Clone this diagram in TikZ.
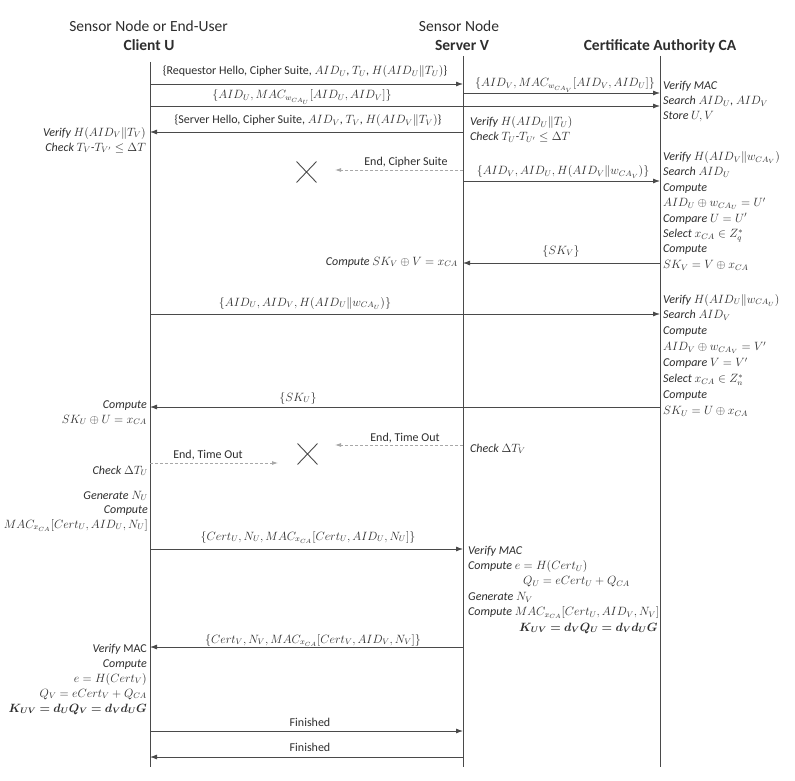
\documentclass[tikz,border=0pt]{standalone}
\usepackage{amsmath,bm}
\usepackage{fontspec}
\setmainfont{Carlito}
\usetikzlibrary{arrows.meta,shapes.misc}
\definecolor{linec}{HTML}{4A4A4A}
\definecolor{txtc}{HTML}{2E2E2E}
\definecolor{dashc}{HTML}{A8A8A8}
\newcommand\lblfont{\fontsize{12}{15}\selectfont}
\newcommand\hdrfont{\fontsize{15.5}{18}\selectfont}
\newcommand\notefontA{\fontsize{12}{15}\selectfont\itshape}
\newcommand\notefontB{\fontsize{12}{15.4}\selectfont\itshape}
\newcommand\notefontC{\fontsize{12}{15.9}\selectfont\itshape}
\newcommand\notefontD{\fontsize{12}{14.5}\selectfont\itshape}
\newcommand\notefontE{\fontsize{12}{14.5}\selectfont\itshape}
\begin{document}
\begin{tikzpicture}[x=1pt,y=-1pt,
  lifeline/.style={draw=linec, line width=0.8pt},
  msg/.style={draw=linec, line width=0.8pt, -{Latex[length=7pt,width=5pt]}},
  dmsg/.style={draw=dashc, line width=0.8pt, dash pattern=on 3pt off 2pt, -{Latex[length=6pt,width=4pt]}},
  lbl/.style={anchor=base, inner sep=0pt, font=\lblfont, text=txtc},
  notel/.style={anchor=base west, align=left, inner sep=0pt, text=txtc},
  noter/.style={anchor=base east, align=right, inner sep=0pt, text=txtc},
  hdr/.style={anchor=base, inner sep=0pt, font=\hdrfont, text=txtc},
  xmark/.style={cross out, draw=linec, line width=0.9pt, minimum width=19pt, minimum height=20pt, inner sep=0pt}]
\fill[white] (0,0) rectangle (795,781);
\useasboundingbox (0,0) rectangle (795,781);

% headers
\node[hdr] (hU1) at (148.5,32) {Sensor Node or End-User};
\node[hdr] (hU2) at (149,51) {\bfseries Client U};
\node[hdr] (hV1) at (459,32) {Sensor Node};
\node[hdr] (hV2) at (462,51) {\bfseries Server V};
\node[hdr] (hC) at (660,51) {\bfseries Certificate Authority CA};

% lifelines
\coordinate (Ut) at (150,62); \coordinate (Ub) at (150,767);
\coordinate (Vt) at (463,56); \coordinate (Vb) at (463,767);
\coordinate (Ct) at (660,56); \coordinate (Cb) at (660,767);
\draw[lifeline] (Ut) -- (Ub);
\draw[lifeline] (Vt) -- (Vb);
\draw[lifeline] (Ct) -- (Cb);

% message 1
\coordinate (m1a) at (150,84); \coordinate (m1b) at (463,84);
\draw[msg] (m1a) -- (m1b);
\node[lbl] (l1) at (305,75) {\{Requestor Hello, Cipher Suite, $AID_U$, $T_U$, $H(AID_U\|T_U)$\}};
% message 2
\coordinate (m2a) at (463,93); \coordinate (m2b) at (660,93);
\draw[msg] (m2a) -- (m2b);
\node[lbl] (l2) at (565,87) {$\{AID_V, MAC_{w_{CA_V}}[AID_V, AID_U]\}$};
% message 3
\coordinate (m3a) at (150,106); \coordinate (m3b) at (660,106);
\draw[msg] (m3a) -- (m3b);
\node[lbl] (l3) at (302,99) {$\{AID_U, MAC_{w_{CA_U}}[AID_U, AID_V]\}$};
\node[notel, font=\notefontA] (n1) at (663,120) {Verify MAC\\Search $AID_U$, $AID_V$\\Store $U,V$};
% message 4
\coordinate (m4a) at (463,132); \coordinate (m4b) at (150,132);
\draw[msg] (m4a) -- (m4b);
\node[lbl] (l4) at (308,124) {\{Server Hello, Cipher Suite, $AID_V$, $T_V$, $H(AID_V\|T_V)$\}};
\node[notel, font=\notefontD] (n2) at (470,140.5) {Verify $H(AID_U\|T_U)$\\Check $T_U$-$T_{U'}\le \Delta T$};
\node[noter, font=\notefontA] (n3) at (146,151) {Verify $H(AID_V\|T_V)$\\Check $T_V$-$T_{V'}\le \Delta T$};

% dashed 1
\coordinate (d1a) at (463,170); \coordinate (d1b) at (335,170);
\draw[dmsg] (d1a) -- (d1b);
\node[lbl] (ld1) at (406,165) {End, Cipher Suite};
\node[xmark] (x1) at (306.5,172) {};

% message 5
\coordinate (m5a) at (463,181); \coordinate (m5b) at (660,181);
\draw[msg] (m5a) -- (m5b);
\node[lbl] (l5) at (563,175) {$\{AID_V, AID_U, H(AID_V\|w_{CA_V})\}$};
\node[notel, font=\notefontB] (n4) at (663,268.3) {Verify $H(AID_V\|w_{CA_V})$\\Search $AID_U$\\Compute\\$AID_U\oplus w_{CA_U}=U'$\\Compare $U=U'$\\Select $x_{CA}\in Z_q^*$\\Compute\\$SK_V=V\oplus x_{CA}$};

% message 6
\coordinate (m6a) at (660,263); \coordinate (m6b) at (463,263);
\draw[msg] (m6a) -- (m6b);
\node[lbl] (l6) at (561,254) {$\{SK_V\}$};
\node[noter, font=\notefontA] (n5) at (458,265) {Compute $SK_V\oplus V=x_{CA}$};

% message 7
\coordinate (m7a) at (150,314); \coordinate (m7b) at (660,314);
\draw[msg] (m7a) -- (m7b);
\node[lbl] (l7) at (305,306) {$\{AID_U, AID_V, H(AID_U\|w_{CA_U})\}$};
\node[notel, font=\notefontC] (n6) at (663,414.3) {Verify $H(AID_U\|w_{CA_U})$\\Search $AID_V$\\Compute\\$AID_V\oplus w_{CA_V}=V'$\\Compare $V=V'$\\Select $x_{CA}\in Z_n^*$\\Compute\\$SK_U=U\oplus x_{CA}$};

% message 8
\coordinate (m8a) at (660,407); \coordinate (m8b) at (150,407);
\draw[msg] (m8a) -- (m8b);
\node[lbl] (l8) at (298,401) {$\{SK_U\}$};
\node[noter, font=\notefontA] (n7) at (147,423) {Compute\\$SK_U\oplus U=x_{CA}$};

% dashed 2 and 3
\coordinate (d2a) at (463,445); \coordinate (d2b) at (335,445);
\draw[dmsg] (d2a) -- (d2b);
\node[lbl] (ld2) at (405,441) {End, Time Out};
\node[notel, font=\notefontA] (n8) at (470,452) {Check $\Delta T_V$};
\node[xmark] (x2) at (307.5,454) {};
\coordinate (d3a) at (150,463); \coordinate (d3b) at (278,463);
\draw[dmsg] (d3a) -- (d3b);
\node[lbl] (ld3) at (208,458) {End, Time Out};
\node[noter, font=\notefontA] (n9) at (148,474) {Check $\Delta T_U$};
\node[noter, font=\notefontE] (n10) at (148,528) {Generate $N_U$\\Compute\\$MAC_{x_{CA}}[Cert_U,AID_U,N_U]$};

% message 11
\coordinate (m11a) at (150,549); \coordinate (m11b) at (463,549);
\draw[msg] (m11a) -- (m11b);
\node[lbl] (l11) at (308,540) {$\{Cert_U, N_U, MAC_{x_{CA}}[Cert_U,AID_U,N_U]\}$};
\node[notel, font=\notefontB] (n11) at (468,631) {Verify MAC\\Compute $e=H(Cert_U)$\\\hspace*{55pt}$Q_U=eCert_U+Q_{CA}$\\Generate $N_V$\\Compute $MAC_{x_{CA}}[Cert_U,AID_V,N_V]$\\\hspace*{51pt}$\bm{K_{UV}=d_VQ_U=d_Vd_UG}$};

% message 12
\coordinate (m12a) at (463,647); \coordinate (m12b) at (150,647);
\draw[msg] (m12a) -- (m12b);
\node[lbl] (l12) at (313,643) {$\{Cert_V, N_V, MAC_{x_{CA}}[Cert_V,AID_V,N_V]\}$};
\node[noter, font=\notefontA] (n12) at (147,712) {Verify {\upshape MAC}\\Compute\\$e=H(Cert_V)$\\$Q_V=eCert_V+Q_{CA}$\\$\bm{K_{UV}=d_UQ_V=d_Vd_UG}$};

% finished
\coordinate (f1a) at (150,731); \coordinate (f1b) at (463,731);
\draw[msg] (f1a) -- (f1b);
\node[lbl] (lf1) at (310,726) {Finished};
\coordinate (f2a) at (463,757); \coordinate (f2b) at (150,757);
\draw[msg] (f2a) -- (f2b);
\node[lbl] (lf2) at (310,751) {Finished};
\end{tikzpicture}
\end{document}
